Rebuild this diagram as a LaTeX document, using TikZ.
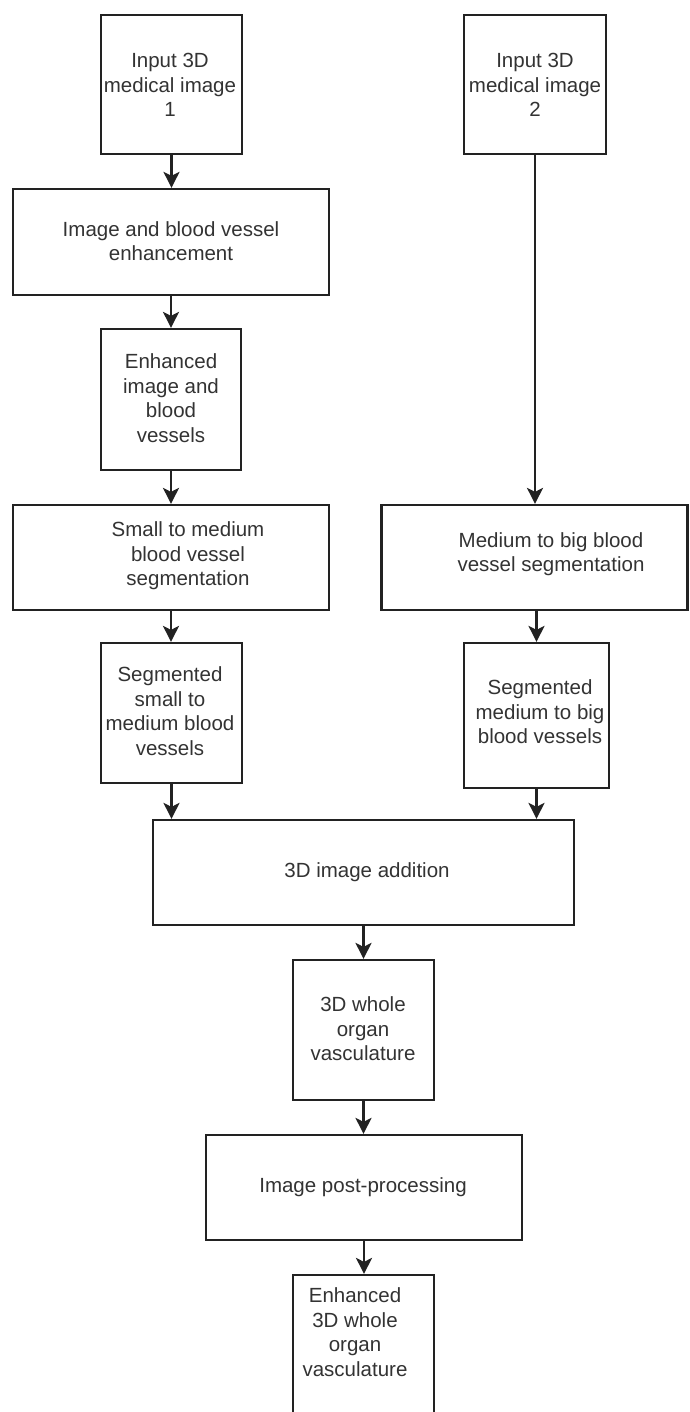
\documentclass[tikz,border=0pt]{standalone}
\usepackage{fontspec}
\setmainfont{Liberation Sans}
\usetikzlibrary{arrows.meta}
\definecolor{linec}{HTML}{222222}
\definecolor{textc}{HTML}{333333}
\tikzset{
  box/.style={draw=linec, line width=2.2pt, rectangle, inner sep=0pt, fill=white},
  txt/.style={text=textc, align=center, inner sep=0pt, font=\fontsize{20.5}{24.5}\selectfont},
  conn/.style={draw=linec, line width=2.2pt, -{Stealth[length=16pt,width=16pt,inset=4pt]}}
}
\begin{document}
\begin{tikzpicture}[x=1pt,y=-1pt]
\useasboundingbox (0,0) rectangle (689,1412);
\fill[white] (0,0) rectangle (689,1412);
\clip (0,0) rectangle (689,1412);
% boxes
\node[box, minimum width=141pt, minimum height=139pt] (b1) at (171.5,84.5) {};
\node[box, minimum width=142pt, minimum height=139pt] (b2) at (535,84.5) {};
\node[box, minimum width=316pt, minimum height=106pt] (b3) at (171,242) {};
\node[box, minimum width=140pt, minimum height=141pt] (b4) at (171,399.5) {};
\node[box, minimum width=316pt, minimum height=105pt] (b5) at (171,557.5) {};
\node[box, minimum width=306pt, minimum height=105pt] (b6) at (534.5,557.5) {};
\node[box, minimum width=141pt, minimum height=140pt] (b7) at (171.5,713) {};
\node[box, minimum width=145pt, minimum height=145pt] (b8) at (536.5,715.5) {};
\node[box, minimum width=421pt, minimum height=105pt] (b9) at (363.5,872.5) {};
\node[box, minimum width=141pt, minimum height=140pt] (b10) at (363.5,1030) {};
\node[box, minimum width=316pt, minimum height=105pt] (b11) at (364,1187.5) {};
\node[box, minimum width=141pt, minimum height=150pt] (b12) at (363.5,1350) {};
% texts
\node[txt] (t1) at (170,85) {Input 3D\\medical image\\1};
\node[txt] (t2) at (535,85) {Input 3D\\medical image\\2};
\node[txt] (t3) at (171,241) {Image and blood vessel\\enhancement};
\node[txt] (t4) at (171,398) {Enhanced\\image and\\blood\\vessels};
\node[txt] (t5) at (188,556) {Small to medium\\blood vessel\\segmentation};
\node[txt] (t6) at (551,554) {Medium to big blood\\vessel segmentation};
\node[txt] (t7) at (170,711) {Segmented\\small to\\medium blood\\vessels};
\node[txt] (t8) at (540,712) {Segmented\\medium to big\\blood vessels};
\node[txt] (t9) at (367,872) {3D image addition};
\node[txt] (t10) at (363,1029) {3D whole\\organ\\vasculature};
\node[txt] (t11) at (363,1187) {Image post-processing};
\node[txt] (t12) at (355,1332) {Enhanced\\3D whole\\organ\\vasculature};
% connectors
\draw[conn] (b1.south) -- (b1.south |- b3.north);
\draw[conn] (b3.south) -- (b3.south |- b4.north);
\draw[conn] (b4.south) -- (b4.south |- b5.north);
\draw[conn] (b5.south) -- (b5.south |- b7.north);
\draw[conn] (b7.south) -- (b7.south |- b9.north);
\draw[conn] (b2.south) -- (b2.south |- b6.north);
\draw[conn] (b8.north |- b6.south) -- (b8.north);
\draw[conn] (b8.south) -- (b8.south |- b9.north);
\draw[conn] (b10.north |- b9.south) -- (b10.north);
\draw[conn] (b10.south) -- (b10.south |- b11.north);
\draw[conn] (b11.south) -- (b11.south |- b12.north);
\end{tikzpicture}
\end{document}
